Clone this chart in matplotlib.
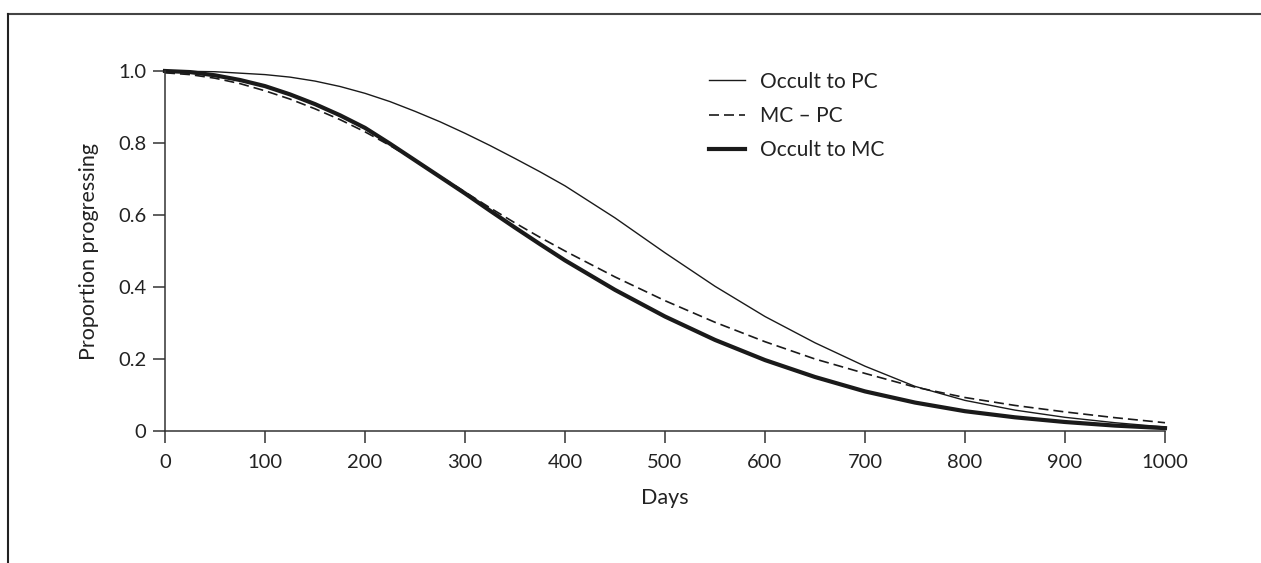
import numpy as np
import matplotlib
matplotlib.use('Agg')
import matplotlib.pyplot as plt
from matplotlib.lines import Line2D

plt.rcParams['font.family'] = ['Lato', 'DejaVu Sans']

# values
days_pc = [0, 50, 100, 125, 150, 175, 200, 225, 250, 275, 300, 325, 350, 375, 400,
           450, 500, 550, 600, 650, 700, 750, 800, 850, 900, 950, 1000]
occult_pc = [1.0, 0.998, 0.99, 0.983, 0.972, 0.957, 0.938, 0.915, 0.888, 0.859, 0.827,
             0.793, 0.757, 0.72, 0.681, 0.592, 0.495, 0.402, 0.318, 0.245, 0.18,
             0.124, 0.085, 0.058, 0.038, 0.023, 0.011]

days = [0, 25, 50, 75, 100, 125, 150, 175, 200, 225, 250, 275, 300, 325, 350, 375,
        400, 450, 500, 550, 600, 650, 700, 750, 800, 850, 900, 950, 1000]
mc_pc = [0.995, 0.99, 0.98, 0.965, 0.945, 0.922, 0.895, 0.865, 0.831, 0.793, 0.752,
         0.708, 0.664, 0.62, 0.578, 0.538, 0.5, 0.428, 0.362, 0.302, 0.248, 0.2,
         0.16, 0.122, 0.093, 0.071, 0.053, 0.037, 0.023]
occult_mc = [1.0, 0.997, 0.988, 0.975, 0.958, 0.935, 0.908, 0.877, 0.842, 0.798, 0.752,
             0.706, 0.66, 0.612, 0.565, 0.519, 0.474, 0.392, 0.318, 0.253, 0.197,
             0.15, 0.11, 0.079, 0.055, 0.038, 0.025, 0.015, 0.008]

xticks = [0, 100, 200, 300, 400, 500, 600, 700, 800, 900, 1000]
yticks = [0, 0.2, 0.4, 0.6, 0.8, 1.0]
ylabels = ['0', '0.2', '0.4', '0.6', '0.8', '1.0']

fig = plt.figure(figsize=(12.61, 5.63), dpi=100)
ax = fig.add_axes([165 / 1261, 132 / 563, 1000 / 1261, 360 / 563])

ink = '#1a1a1a'
l1, = ax.plot(days_pc, occult_pc, color=ink, lw=1.0, clip_on=False)
l2, = ax.plot(days, mc_pc, color=ink, lw=1.2, ls=(0, (6, 3)), clip_on=False)
l3, = ax.plot(days, occult_mc, color=ink, lw=3.0, clip_on=False,
              solid_joinstyle='round')

ax.set_xlim(0, 1000)
ax.set_ylim(0, 1.0)
ax.set_xticks(xticks)
ax.set_xticklabels([str(v) for v in xticks])
ax.set_yticks(yticks)
ax.set_yticklabels(ylabels)
for s in ['top', 'right']:
    ax.spines[s].set_visible(False)
for s in ['left', 'bottom']:
    ax.spines[s].set_color('#333333')
    ax.spines[s].set_linewidth(1.1)
ax.tick_params(direction='out', length=8.5, width=1.1, color='#333333',
               labelsize=14.5, labelcolor='#222222')
ax.tick_params(axis='y', pad=5)
ax.tick_params(axis='x', pad=8)
ax.set_xlabel('Days', fontsize=15.5, color='#222222', labelpad=12)
ax.set_ylabel('Proportion progressing', fontsize=15.5, color='#222222', labelpad=14)

ax.legend([l1, l2, l3], ['Occult to PC', 'MC \u2013 PC', 'Occult to MC'],
          loc='upper left', bbox_to_anchor=(690 / 1261, 1 - 53 / 563),
          bbox_transform=fig.transFigure, frameon=False, fontsize=15,
          handlelength=1.75, handletextpad=0.7, labelspacing=0.68,
          labelcolor='#222222')

# outer frame: top and left edges only
fig.add_artist(Line2D([8 / 1261, 1], [1 - 14 / 563, 1 - 14 / 563],
                      transform=fig.transFigure, color='#444444', lw=1.5))
fig.add_artist(Line2D([8 / 1261, 8 / 1261], [0, 1 - 14 / 563],
                      transform=fig.transFigure, color='#222222', lw=1.5))

fig.savefig('out.png', dpi=100)
